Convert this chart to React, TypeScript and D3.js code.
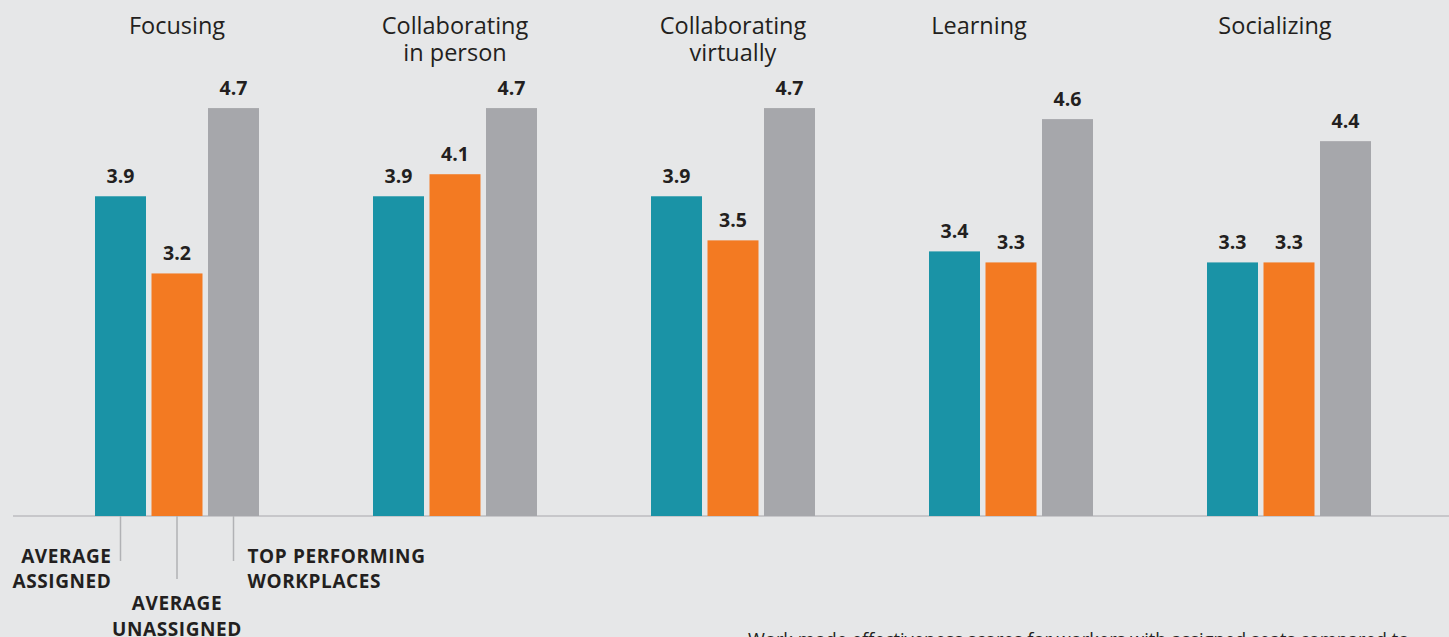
import React from "react";
import * as d3 from "d3";

const categories = ["Focusing", "Collaborating in person", "Collaborating virtually", "Learning", "Socializing"];
const categoryLines = [["Focusing"], ["Collaborating", "in person"], ["Collaborating", "virtually"], ["Learning"], ["Socializing"]];
const seriesNames = ["Average assigned", "Average unassigned", "Top performing workplaces"];
const averageAssigned = [3.9, 3.9, 3.9, 3.4, 3.3];
const averageUnassigned = [3.2, 4.1, 3.5, 3.3, 3.3];
const topPerforming = [4.7, 4.7, 4.7, 4.6, 4.4];
const seriesValues = [averageAssigned, averageUnassigned, topPerforming];
const legendLabels = [["AVERAGE", "ASSIGNED"], ["AVERAGE", "UNASSIGNED"], ["TOP PERFORMING", "WORKPLACES"]];
const caption = "Work mode effectiveness scores for workers with assigned seats compared to";

const W = 1449;
const H = 637;
const COLORS = ["#1a93a6", "#f37a22", "#a6a7ab"];
const BG = "#e6e7e8";
const TEXT = "#231f20";
const FONT = "'Open Sans', 'Noto Sans', sans-serif";
const labelShift = [0, 0, 0, -32, -14];

export default function App() {
  const x0 = d3.scaleBand<string>().domain(categories).range([38, 1428]);
  const x1 = d3.scaleBand<string>().domain(seriesNames).range([0, 164]).paddingInner(0.0973).paddingOuter(0);
  const y = d3.scaleLinear().domain([1, 5]).range([516, 75]);
  const groupLeft = (i: number) => (x0(categories[i]) as number) + (x0.bandwidth() - 164) / 2;
  const base = y(1);

  const lx = (s: number) => groupLeft(0) + (x1(seriesNames[s]) as number) + x1.bandwidth() / 2;

  return (
    <svg width={W} height={H} style={{ position: "absolute", left: 0, top: 0, display: "block" }} fontFamily={FONT}>
      <rect x={0} y={0} width={W} height={H} fill={BG} />
      <line x1={13} x2={W} y1={base} y2={base} stroke="#bcbdc0" strokeWidth={1.5} />
      {categories.map((c, i) => {
        const cx = (x0(c) as number) + x0.bandwidth() / 2 + labelShift[i];
        return (
          <g key={c}>
            {categoryLines[i].map((l, k) => (
              <text key={k} x={cx} y={34 + k * 27} textAnchor="middle" fontSize={23.5} fill={TEXT}>
                {l}
              </text>
            ))}
            {seriesNames.map((s, j) => {
              const v = seriesValues[j][i];
              const bx = groupLeft(i) + (x1(s) as number);
              return (
                <g key={s}>
                  <rect x={bx} y={y(v)} width={x1.bandwidth()} height={base - y(v)} fill={COLORS[j]} />
                  <text
                    x={bx + x1.bandwidth() / 2}
                    y={y(v) - 13}
                    textAnchor="middle"
                    fontSize={19.5}
                    fontWeight={700}
                    fill={TEXT}
                  >
                    {v.toFixed(1)}
                  </text>
                </g>
              );
            })}
          </g>
        );
      })}
      <line x1={lx(0)} x2={lx(0)} y1={base} y2={561} stroke="#b1b2b5" strokeWidth={1.5} />
      <line x1={lx(1)} x2={lx(1)} y1={base} y2={579} stroke="#b1b2b5" strokeWidth={1.5} />
      <line x1={lx(2)} x2={lx(2)} y1={base} y2={561} stroke="#b1b2b5" strokeWidth={1.5} />
      <g fontSize={19} fontWeight={700} fill={TEXT} letterSpacing={0.6}>
        <text x={lx(0) - 9} y={563} textAnchor="end">{legendLabels[0][0]}</text>
        <text x={lx(0) - 9} y={588} textAnchor="end">{legendLabels[0][1]}</text>
        <text x={lx(1)} y={610} textAnchor="middle">{legendLabels[1][0]}</text>
        <text x={lx(1)} y={636} textAnchor="middle">{legendLabels[1][1]}</text>
        <text x={lx(2) + 14} y={563} textAnchor="start">{legendLabels[2][0]}</text>
        <text x={lx(2) + 14} y={588} textAnchor="start">{legendLabels[2][1]}</text>
      </g>
      <text x={748} y={646} fontSize={18.3} fill={TEXT}>{caption}</text>
    </svg>
  );
}
